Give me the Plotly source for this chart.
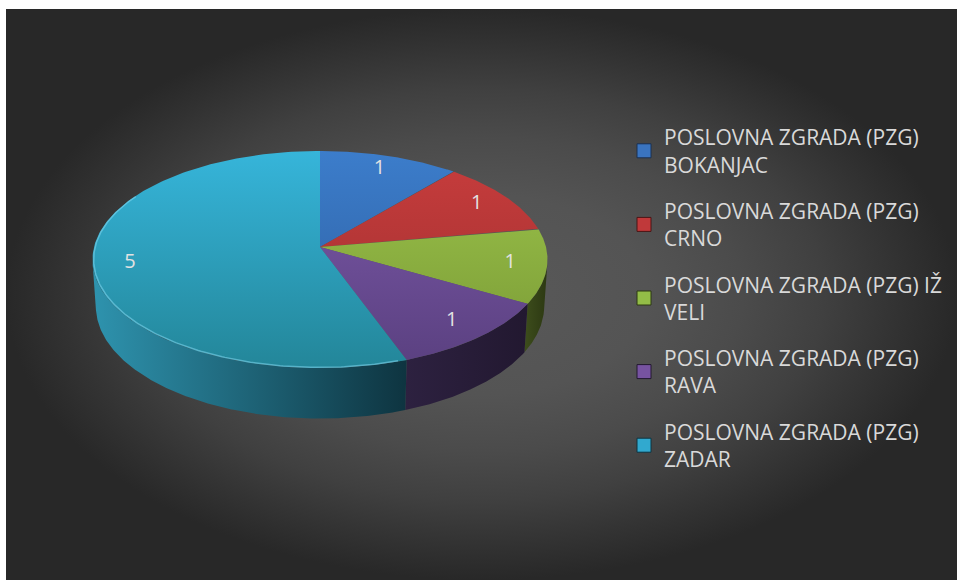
import numpy as np
import plotly.graph_objects as go

# ---------------- data ----------------
categories = [
    "POSLOVNA ZGRADA (PZG) BOKANJAC",
    "POSLOVNA ZGRADA (PZG) CRNO",
    "POSLOVNA ZGRADA (PZG) IŽ VELI",
    "POSLOVNA ZGRADA (PZG) RAVA",
    "POSLOVNA ZGRADA (PZG) ZADAR",
]
legend_labels = [
    "POSLOVNA ZGRADA (PZG)<br>BOKANJAC",
    "POSLOVNA ZGRADA (PZG)<br>CRNO",
    "POSLOVNA ZGRADA (PZG) IŽ<br>VELI",
    "POSLOVNA ZGRADA (PZG)<br>RAVA",
    "POSLOVNA ZGRADA (PZG)<br>ZADAR",
]
values = [1, 1, 1, 1, 5]

# ---------------- styles ----------------
top_light = ["#3c7dcb", "#c83d3d", "#9dc54c", "#7d5aaa", "#36b5da"]
top_dark = ["#2c5c9c", "#9c2e2e", "#789834", "#5a4080", "#238699"]
wall_light = ["#24446e", "#6e2020", "#3d4d1c", "#2d2140", "#2e93ae"]
wall_dark = ["#1a3050", "#4a1515", "#2c3812", "#221830", "#0e3440"]
legend_colors = ["#3a74c0", "#c0393a", "#93bd47", "#7753a1", "#31a9cf"]
text_color = "#e2e2e2"
FONT = "Open Sans"

W, H_PX = 957, 580
CX, CY = 320.0, 247.0          # screen position of pie apex
F = 1728.9                      # perspective focal length (px)
DIST = 7.65                     # camera distance (pie radii)
ALPHA = np.radians(28.3)        # elevation
THICK = 0.237                   # pie thickness (pie radii)
LABEL_R = 0.84


def project(theta_deg, r, z):
    t = np.radians(np.asarray(theta_deg, dtype=float))
    X = r * np.sin(t)
    Y = -r * np.cos(t)
    depth = DIST - Y * np.cos(ALPHA) - z * np.sin(ALPHA)
    sx = CX + F * X / depth
    sy = CY - F * (z * np.cos(ALPHA) - Y * np.sin(ALPHA)) / depth
    return sx, sy


total = float(sum(values))
bounds = np.concatenate([[0.0], np.cumsum(values) / total * 360.0])

fig = go.Figure()

# background with radial gradient
fig.add_trace(go.Scatter(
    x=[6, W, W, 6, 6], y=[9, 9, H_PX, H_PX, 9],
    mode="lines", line=dict(width=0), fill="toself",
    fillgradient=dict(type="radial",
                      colorscale=[[0, "#595959"], [0.35, "#545454"],
                                  [0.55, "#4b4b4b"], [0.72, "#404040"],
                                  [0.87, "#333333"], [1, "#282828"]]),
    hoverinfo="skip", showlegend=False))

# visible outer wall range
tv = np.degrees(np.arccos(-1.0 / (DIST * np.cos(ALPHA))))

# walls
for i in range(len(values)):
    lo = max(bounds[i], tv)
    hi = min(bounds[i + 1], 360 - tv)
    if lo >= hi:
        continue
    th = np.linspace(lo, hi, 200)
    xt, yt = project(th, 1.0, 0.0)
    xb, yb = project(th[::-1], 1.0, -THICK)
    xs = np.concatenate([xt, xb, xt[:1]])
    ys = np.concatenate([yt, yb, yt[:1]])
    fig.add_trace(go.Scatter(
        x=xs, y=ys, mode="lines", line=dict(width=0), fill="toself",
        fillgradient=dict(type="horizontal",
                          colorscale=[[0, wall_light[i]], [1, wall_dark[i]]]),
        hoverinfo="skip", showlegend=False))

# tops
_, ytop = project(0, 1.0, 0.0)
_, ybot = project(180, 1.0, 0.0)
for i in range(len(values)):
    th = np.linspace(bounds[i], bounds[i + 1], 200)
    xa, ya = project(th, 1.0, 0.0)
    xs = np.concatenate([[CX], xa, [CX]])
    ys = np.concatenate([[CY], ya, [CY]])
    fig.add_trace(go.Scatter(
        x=xs, y=ys, mode="lines", line=dict(width=0), fill="toself",
        fillgradient=dict(type="vertical", start=float(ytop), stop=float(ybot),
                          colorscale=[[0, top_light[i]], [1, top_dark[i]]]),
        name=categories[i], hoverinfo="skip", showlegend=False))

# rim highlight on front edge of the largest slice
th = np.linspace(bounds[4] + 2, 300, 200)
xr, yr = project(th, 0.995, 0.0)
fig.add_trace(go.Scatter(x=xr, y=yr, mode="lines",
                         line=dict(color="rgba(130,215,240,0.55)", width=1.5),
                         hoverinfo="skip", showlegend=False))

# data labels
mids = (bounds[:-1] + bounds[1:]) / 2
lx, ly = project(mids, LABEL_R, 0.0)
fig.add_trace(go.Scatter(
    x=lx, y=ly, mode="text", text=[str(v) for v in values],
    textfont=dict(family=FONT, size=20, color=text_color),
    hoverinfo="skip", showlegend=False))

# legend entries
for i in range(len(values)):
    fig.add_trace(go.Scatter(
        x=[None], y=[None], mode="markers", name=legend_labels[i],
        legendgroup=str(i),
        marker=dict(symbol="square", size=14, color=legend_colors[i],
                    line=dict(color=wall_dark[i], width=1))))

fig.update_layout(
    width=W, height=H_PX,
    margin=dict(l=0, r=0, t=0, b=0),
    paper_bgcolor="white", plot_bgcolor="white",
    xaxis=dict(range=[0, W], visible=False, fixedrange=True),
    yaxis=dict(range=[H_PX, 0], visible=False, fixedrange=True),
    showlegend=True,
    legend=dict(x=624 / W, y=1 - 117 / H_PX, xanchor="left", yanchor="top",
                font=dict(family=FONT, size=21, color="#d9d9d9"),
                bgcolor="rgba(0,0,0,0)", tracegroupgap=16,
                itemclick=False, itemdoubleclick=False),
)

fig.write_html("out.html", config={"displayModeBar": False},
               post_script="document.body.style.margin='0';")
